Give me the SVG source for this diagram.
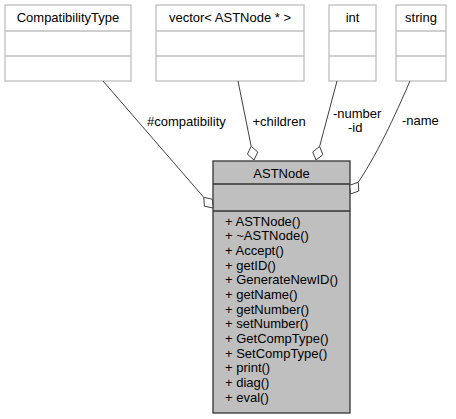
<svg xmlns="http://www.w3.org/2000/svg" width="456" height="419" viewBox="0 0 456 419">
<style>
text{font-family:"Liberation Sans",Arial,sans-serif;font-size:13px;fill:#000}
.c{text-anchor:middle}
.ext rect{fill:#fff;stroke:#bfbfbf;stroke-width:1.3}
.ext line{stroke:#bfbfbf;stroke-width:1.3}
.edge{fill:none;stroke:#404040;stroke-width:1}
.dia{fill:#fff;stroke:#404040;stroke-width:1}
</style>
<rect width="456" height="419" fill="#fff"/>
<g id="CompatibilityType" class="ext">
<rect x="5" y="5" width="126" height="76"/>
<line x1="5" y1="31" x2="131" y2="31"/>
<line x1="5" y1="56" x2="131" y2="56"/>
<text class="c" x="68" y="22">CompatibilityType</text>
</g>
<g id="vector" class="ext">
<rect x="156" y="5" width="148" height="76"/>
<line x1="156" y1="31" x2="304" y2="31"/>
<line x1="156" y1="56" x2="304" y2="56"/>
<text class="c" x="230" y="22">vector&lt; ASTNode * &gt;</text>
</g>
<g id="int" class="ext">
<rect x="329" y="5" width="47" height="76"/>
<line x1="329" y1="31" x2="376" y2="31"/>
<line x1="329" y1="56" x2="376" y2="56"/>
<text class="c" x="352.5" y="22">int</text>
</g>
<g id="string" class="ext">
<rect x="396" y="5" width="50" height="76"/>
<line x1="396" y1="31" x2="446" y2="31"/>
<line x1="396" y1="56" x2="446" y2="56"/>
<text class="c" x="421" y="22">string</text>
</g>
<g id="ASTNode">
<rect x="213" y="161" width="137" height="252" fill="#bfbfbf" stroke="#333" stroke-width="1.3"/>
<line x1="213" y1="184" x2="350" y2="184" stroke="#333" stroke-width="1.3"/>
<line x1="213" y1="211" x2="350" y2="211" stroke="#333" stroke-width="1.3"/>
<text class="c" x="281.5" y="177.5">ASTNode</text>
<text x="225" y="225.5">+ ASTNode()</text>
<text x="225" y="240.2">+ ~ASTNode()</text>
<text x="225" y="254.8">+ Accept()</text>
<text x="225" y="269.5">+ getID()</text>
<text x="225" y="284.2">+ GenerateNewID()</text>
<text x="225" y="298.8">+ getName()</text>
<text x="225" y="313.5">+ getNumber()</text>
<text x="225" y="328.2">+ setNumber()</text>
<text x="225" y="342.8">+ GetCompType()</text>
<text x="225" y="357.5">+ SetCompType()</text>
<text x="225" y="372.2">+ print()</text>
<text x="225" y="386.8">+ diag()</text>
<text x="225" y="401.5">+ eval()</text>
</g>
<g id="connectors">
<path class="edge" d="M103,81 L203.8,197.4"/>
<polygon class="dia" points="203.8,197.4 212.4,199.2 213,208 204.4,206.2"/>
<text x="147" y="126">#compatibility</text>
<path class="edge" d="M238,81 L251.2,146.3"/>
<polygon class="dia" points="251.2,146.3 257.8,152.1 254,160 247.4,154.2"/>
<text x="252.5" y="126">+children</text>
<path class="edge" d="M337,81 L319.6,146.5"/>
<polygon class="dia" points="319.6,146.5 322.9,154.6 316,160 312.7,151.9"/>
<text x="333" y="118">-number</text>
<text x="348" y="131.5">-id</text>
<path class="edge" d="M410,81 C400,104 380,150 358.2,182.3"/>
<polygon class="dia" points="358.2,182.3 358.8,191 350.5,194 349.9,185.2"/>
<text x="402" y="125">-name</text>
</g>
</svg>
